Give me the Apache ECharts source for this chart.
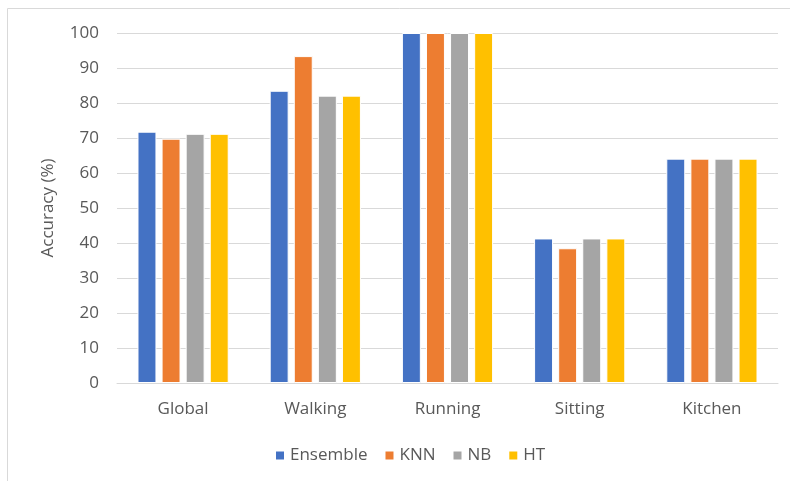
<!DOCTYPE html>
<html>
<head>
<meta charset="utf-8">
<script src="https://cdn.jsdelivr.net/npm/echarts@6/dist/echarts.min.js"></script>
<style>
  html, body { margin: 0; padding: 0; background: #fff; }
  #chart { width: 790px; height: 481px; }
</style>
</head>
<body>
<div id="chart"></div>
<script>
// Classification accuracy per activity and model
const categories = ['Global', 'Walking', 'Running', 'Sitting', 'Kitchen'];
const ensemble = [71.8, 83.5, 100, 41.3, 64.1];
const knn      = [69.8, 93.4, 100, 38.5, 64.1];
const nb       = [71.2, 82.1, 100, 41.3, 64.1];
const ht       = [71.2, 82.1, 100, 41.3, 64.1];
const yTicks = { min: 0, max: 100, interval: 10 };

const FONT = '"Open Sans", sans-serif';
const TEXT = '#595959';
const SIZE = 17;

const chart = echarts.init(document.getElementById('chart'), null, { renderer: 'canvas' });

function barSeries(name, data, color) {
  return {
    name: name,
    type: 'bar',
    data: data,
    barGap: '27%',
    barCategoryGap: '31%',
    itemStyle: { color: color, borderColor: '#ffffff', borderWidth: 1 },
    emphasis: { disabled: true }
  };
}

chart.setOption({
  animation: false,
  graphic: [{
    type: 'rect',
    shape: { x: 7.5, y: 8.5, width: 800, height: 500 },
    style: { fill: 'none', stroke: '#d9d9d9', lineWidth: 1 },
    silent: true
  }],
  grid: { left: 117, right: 12, top: 33, bottom: 98 },
  legend: {
    top: 442,
    left: 269,
    itemWidth: 10,
    itemHeight: 10,
    itemGap: 16,
    icon: 'rect',
    textStyle: { fontFamily: FONT, fontSize: SIZE, color: TEXT },
    data: ['Ensemble', 'KNN', 'NB', 'HT']
  },
  xAxis: {
    type: 'category',
    data: categories,
    axisLine: { lineStyle: { color: '#d9d9d9', width: 1 } },
    axisTick: { show: false },
    axisLabel: { fontFamily: FONT, fontSize: SIZE, color: TEXT, margin: 18 }
  },
  yAxis: {
    type: 'value',
    min: yTicks.min,
    max: yTicks.max,
    interval: yTicks.interval,
    name: 'Accuracy (%)',
    nameLocation: 'middle',
    nameGap: 60,
    nameTextStyle: { fontFamily: FONT, fontSize: SIZE, color: TEXT },
    axisLine: { show: false },
    axisTick: { show: false },
    axisLabel: { fontFamily: FONT, fontSize: SIZE, color: TEXT, margin: 18 },
    splitLine: { lineStyle: { color: '#d9d9d9', width: 1 } }
  },
  series: [
    barSeries('Ensemble', ensemble, '#4472c4'),
    barSeries('KNN', knn, '#ed7d31'),
    barSeries('NB', nb, '#a5a5a5'),
    barSeries('HT', ht, '#ffc000')
  ]
});
</script>
</body>
</html>
